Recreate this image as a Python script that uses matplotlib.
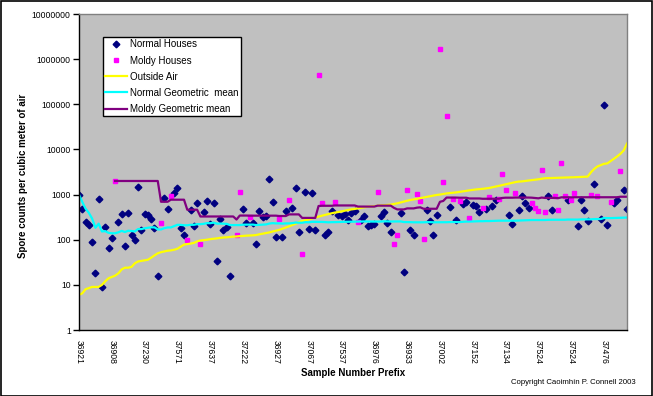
import numpy as np
import matplotlib
matplotlib.use('Agg')
import matplotlib.pyplot as plt
from matplotlib.patches import Rectangle

plt.rcParams['font.family'] = ['Liberation Sans', 'DejaVu Sans']

na = None

# one entry per sample (168 samples), sorted as in the sheet
tick_labels = ['36921', '36908', '37230', '37571', '37637', '37222', '36927', '37067', '37537',
               '36976', '36933', '37002', '37152', '37134', '37524', '37524', '37476']

normal = [1000, 470, 245, 210, 90, 18, 790, 9, 190, 65,
          110, na, 245, 370, 72, 400, 128, 98, 1450, 165,
          370, 350, 285, 180, 15.5, na, 830, 470, na, 1100,
          1380, 180, 125, na, 455, 200, 640, na, 405, 710,
          223, 640, 34, 290, 160, 188, 15.5, na, na, na,
          470, 232, na, 232, 80, 427, 314, 335, 2180, 676,
          113, na, 113, 427, na, 495, 1380, 148, na, 1120,
          170, 1070, 162, na, na, 125, 148, 427, na, 354,
          340, 371, 270, 384, 427, na, 270, 330, 205, 210,
          225, na, 330, 411, 231, 146, na, na, 385, 19,
          na, 164, 125, na, na, na, 450, 256, 125, 350,
          na, na, na, 540, na, 270, na, 620, 685, na,
          577, 550, 405, na, 472, na, 550, 770, na, na,
          na, 350, 220, na, 450, 915, 640, 500, na, na,
          na, na, na, 915, 450, na, na, na, na, 750,
          na, na, 198, 750, 450, 256, na, 1700, na, 283,
          95000, 208, na, 640, 750, na, 1245, 472]

moldy = [na, na, na, na, na, na, na, na, na, na,
         na, 2000, na, na, na, na, na, na, na, na,
         na, na, na, na, na, 240, na, na, 950, na,
         na, na, na, 100, na, na, na, 82, na, na,
         na, na, na, na, na, na, na, na, 130, 1150,
         na, na, 325, na, na, na, na, na, na, na,
         na, 293, na, na, 773, na, na, na, 49, na,
         na, na, na, 450000, 662, na, na, na, 695, na,
         na, na, na, na, na, 246, na, na, na, na,
         na, 1140, na, na, na, na, 82, 127, na, na,
         1260, na, na, 1050, 720, 106, na, na, na, na,
         1700000, 1900, 56000, na, 810, na, 720, na, na, 303,
         na, na, na, 510, na, 884, na, na, 800, 2900,
         1260, na, na, 1100, na, na, na, na, 660, 505,
         440, 3570, 417, na, na, 945, 455, 5100, 945, na,
         760, 1100, na, na, na, na, 1000, na, 945, na,
         na, na, 685, na, na, 3400, na, na]

outside = [6, 6.5, 8, 8.5, 9, 9, 9, 10, 12, 14,
           15, 16, 18, 22, 24, 24, 25, 30, 33, 34,
           35, 36, 40, 45, 50, 53, 55, 57, 58, 60,
           63, 70, 78, 80, 82, 85, 92, 96, 98, 100,
           103, 105, 107, 110, 112, 113, 115, 117, 118, 120,
           121, 123, 124, 125, 127, 132, 136, 140, 145, 152,
           158, 165, 175, 185, 198, 212, 225, 245, 260, 270,
           282, 295, 310, 325, 340, 355, 370, 385, 400, 410,
           425, 440, 455, 470, 480, 495, 510, 525, 540, 545,
           555, 565, 575, 580, 590, 600, 620, 640, 670, 700,
           730, 760, 780, 805, 830, 860, 890, 920, 950, 980,
           1000, 1030, 1060, 1080, 1100, 1120, 1150, 1180, 1210, 1240,
           1270, 1300, 1320, 1340, 1370, 1400, 1450, 1500, 1560, 1620,
           1680, 1750, 1820, 1890, 1940, 1960, 2000, 2030, 2080, 2130,
           2180, 2240, 2300, 2310, 2320, 2340, 2360, 2370, 2380, 2390,
           2400, 2420, 2440, 2460, 2480, 2500, 3100, 3700, 4200, 4500,
           4800, 4900, 5500, 6200, 7000, 8000, 9500, 13500]

normal_gm = [1000, 686, 487, 394, 294, 184, 227, 152, 155, 142,
             139, 139, 146, 157, 148, 158, 156, 152, 172, 172,
             179, 184, 188, 188, 169, 169, 180, 187, 187, 200,
             214, 213, 209, 209, 214, 214, 221, 221, 225, 233,
             232, 239, 227, 228, 226, 225, 211, 211, 211, 211,
             215, 216, 216, 216, 211, 214, 216, 218, 228, 233,
             230, 230, 227, 230, 230, 233, 240, 238, 238, 245,
             243, 249, 248, 248, 248, 245, 243, 245, 245, 247,
             248, 249, 250, 251, 253, 253, 253, 254, 253, 253,
             252, 252, 253, 255, 255, 253, 253, 253, 254, 246,
             246, 245, 243, 243, 243, 243, 245, 245, 243, 244,
             244, 244, 244, 246, 246, 246, 246, 249, 252, 252,
             254, 256, 257, 257, 259, 259, 261, 264, 264, 264,
             264, 265, 264, 264, 266, 269, 271, 273, 273, 273,
             273, 273, 273, 276, 277, 277, 277, 277, 277, 280,
             280, 280, 279, 282, 283, 283, 283, 287, 287, 287,
             302, 301, 301, 303, 306, 306, 309, 310]

moldy_gm = [na, na, na, na, na, na, na, na, na, na,
            na, 2000, 2000, 2000, 2000, 2000, 2000, 2000, 2000, 2000,
            2000, 2000, 2000, 2000, 2000, 693, 693, 693, 770, 770,
            770, 770, 770, 462, 462, 462, 462, 327, 327, 327,
            327, 327, 327, 327, 327, 327, 327, 327, 280, 343,
            343, 343, 341, 341, 341, 341, 341, 341, 341, 341,
            341, 335, 335, 335, 364, 364, 364, 364, 304, 304,
            304, 304, 304, 558, 565, 565, 565, 565, 574, 574,
            574, 574, 574, 574, 574, 542, 542, 542, 542, 542,
            542, 568, 568, 568, 568, 568, 507, 469, 469, 469,
            494, 494, 494, 513, 522, 485, 485, 485, 485, 485,
            692, 722, 859, 859, 857, 857, 851, 851, 851, 820,
            820, 820, 820, 807, 807, 810, 810, 810, 809, 842,
            853, 853, 853, 859, 859, 859, 859, 859, 853, 840,
            826, 858, 842, 842, 842, 845, 832, 869, 871, 871,
            868, 873, 873, 873, 873, 873, 875, 875, 876, 876,
            876, 876, 872, 872, 872, 896, 896, 896]

x = np.arange(len(normal))
normal = np.array(normal, dtype=float)
moldy = np.array(moldy, dtype=float)
outside = np.array(outside, dtype=float)
normal_gm = np.array(normal_gm, dtype=float)
moldy_gm = np.array(moldy_gm, dtype=float)

W, H = 653, 396
fig = plt.figure(figsize=(W / 100, H / 100), dpi=100)
fig.patch.set_facecolor('white')
ax = fig.add_axes([79 / W, 1 - 330 / H, 548 / W, 316 / H])
ax.set_facecolor('#c0c0c0')

ax.plot(x, normal, linestyle='none', marker='D', markersize=3.4, color='#000080', label='Normal Houses')
ax.plot(x, moldy, linestyle='none', marker='s', markersize=3.0, color='#ff00ff', label='Moldy Houses')
ax.plot(x, outside, color='#ffff00', lw=1.6, label='Outside Air')
ax.plot(x, normal_gm, color='#00ffff', lw=1.6, label='Normal Geometric  mean')
ax.plot(x, moldy_gm, color='#800080', lw=1.6, label='Moldy Geometric mean')

ax.set_yscale('log')
ax.set_ylim(1, 1e7)
ax.set_xlim(0, len(x) - 1)
yt = [1, 10, 100, 1000, 10000, 100000, 1000000, 10000000]
ax.set_yticks(yt)
ax.set_yticklabels([str(v) for v in yt])
ax.yaxis.set_minor_locator(matplotlib.ticker.NullLocator())
ax.tick_params(axis='y', length=4, width=1, pad=2, labelsize=6.2, color='black')

ax.set_xticks(np.arange(0, len(x), 10))
ax.set_xticklabels(tick_labels, rotation=-90, fontsize=6.2)
ax.set_xticks(np.arange(0, len(x), 20), minor=True)
ax.tick_params(axis='x', which='major', length=0, pad=7)
ax.tick_params(axis='x', which='minor', length=4, width=1, color='black')

for s in ['top', 'right']:
    ax.spines[s].set_color('#808080')
    ax.spines[s].set_linewidth(1)
for s in ['left', 'bottom']:
    ax.spines[s].set_color('black')
    ax.spines[s].set_linewidth(1)

leg = ax.legend(loc='upper left', bbox_to_anchor=(103 / W, 1 - 37 / H), bbox_transform=fig.transFigure,
                borderaxespad=0, fancybox=False, framealpha=1, edgecolor='black', fontsize=7,
                borderpad=0.25, labelspacing=0.63, handlelength=2.2, handletextpad=0.3, numpoints=1)
leg.get_frame().set_linewidth(1)

fig.text(23 / W, 1 - 176 / H, 'Spore counts per cubic meter of air', rotation=90, ha='center', va='center',
         fontsize=7, fontweight='bold')
fig.text(353 / W, 1 - 373 / H, 'Sample Number Prefix', ha='center', va='center', fontsize=7, fontweight='bold')
fig.text(636 / W, 1 - 382 / H, 'Copyright Caoimh\u00edn P. Connell 2003', ha='right', va='center', fontsize=5.6)

fig.patches.append(Rectangle((0.5 / W, 0.5 / H), 1 - 1.5 / W, 1 - 1.5 / H, transform=fig.transFigure,
                             fill=False, edgecolor='black', lw=1.2))

fig.savefig('out.png', dpi=100)
